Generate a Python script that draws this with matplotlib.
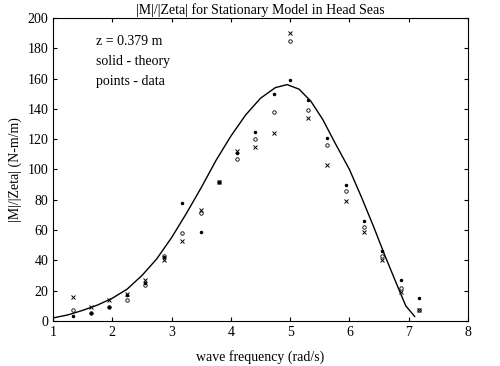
import numpy as np
import matplotlib.pyplot as plt

plt.rcParams['font.family'] = ['Liberation Serif', 'DejaVu Serif']

#%% data
freq = [1.34, 1.64, 1.94, 2.25, 2.55, 2.87, 3.17, 3.49, 3.80, 4.10,
        4.41, 4.72, 5.00, 5.30, 5.62, 5.94, 6.25, 6.55, 6.87, 7.17]
data_dot = [3, 5, 9, 17, 25, 42, 78, 59, 92, 111,
            125, 150, 159, 146, 121, 90, 66, 46, 27, 15]
data_o = [7, 5, 9, 14, 24, 43, 58, 71, 92, 107,
          120, 138, 185, 139, 116, 86, 62, 43, 22, 7]
data_x = [16, 9, 14, 18, 27, 40, 53, 73, 92, 112,
          115, 124, 190, 134, 103, 79, 59, 40, 19, 7]

# theory curve (solid line)
theory_f = [1.0, 1.25, 1.5, 1.75, 2.0, 2.25, 2.5, 2.75, 3.0, 3.25,
            3.5, 3.75, 4.0, 4.25, 4.5, 4.75, 4.95, 5.15, 5.35, 5.55,
            5.75, 6.0, 6.2, 6.4, 6.6, 6.8, 6.95, 7.1]
theory_m = [2, 4, 7, 10.5, 15, 21, 30, 41, 55, 71,
            88, 106, 122, 136, 147, 154, 156, 153, 145, 133,
            118, 100, 82, 63, 43, 24, 10, 3]

#%% plot
fig = plt.figure(figsize=(5.0, 3.66), dpi=100)
ax = fig.add_axes([0.106, 0.123, 0.830, 0.828])

ax.plot(theory_f, theory_m, color='black', linewidth=1.0)
ax.plot(freq, data_dot, '.', color='black', markersize=3)
ax.plot(freq, data_o, 'o', color='black', markerfacecolor='none',
        markersize=2.5, markeredgewidth=0.6)
ax.plot(freq, data_x, 'x', color='black', markersize=3, markeredgewidth=0.7)

ax.set_xlim(1, 8)
ax.set_ylim(0, 200)
ax.set_xticks(np.arange(1, 9, 1))
ax.set_yticks(np.arange(0, 201, 20))
ax.tick_params(direction='in', top=True, right=True, labelsize=10, length=3)

ax.set_title('|M|/|Zeta| for Stationary Model in Head Seas', fontsize=10, pad=3)
ax.set_xlabel('wave frequency (rad/s)', fontsize=10, labelpad=8)
ax.set_ylabel('|M|/|Zeta| (N-m/m)', fontsize=10)

ax.text(1.72, 182, 'z = 0.379 m', fontsize=10)
ax.text(1.72, 169, 'solid - theory', fontsize=10)
ax.text(1.72, 156, 'points - data', fontsize=10)

fig.savefig('out.png', dpi=100)
